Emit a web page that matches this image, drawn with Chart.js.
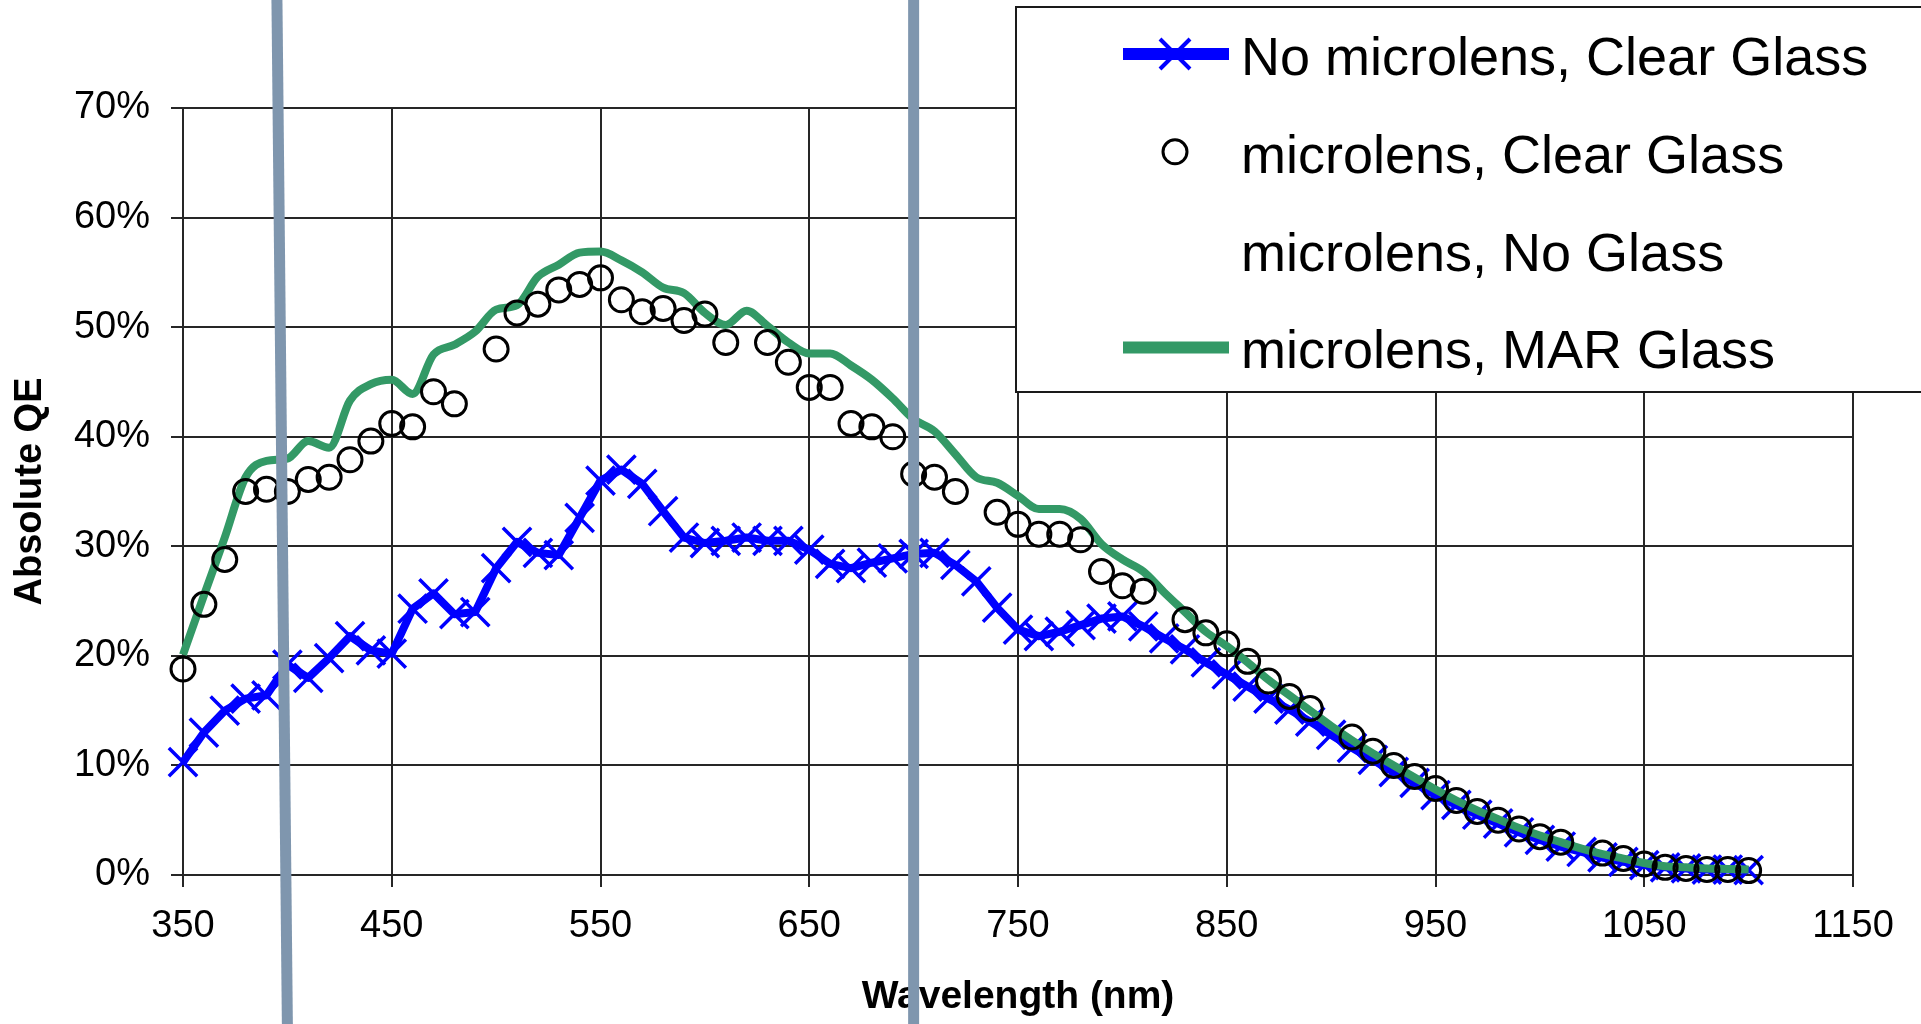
<!DOCTYPE html>
<html>
<head>
<meta charset="utf-8">
<title>Absolute QE vs Wavelength</title>
<script src="https://cdn.jsdelivr.net/npm/chart.js@4.4.1/dist/chart.umd.min.js"></script>
<style>
  html, body { margin: 0; padding: 0; background: #fff; overflow: hidden; }
  #qeChart { display: block; }
</style>
</head>
<body>
<canvas id="qeChart" width="1921" height="1024"></canvas>
<script>
// wavelength of every measured point (nm)
const wavelengths = [
  350, 360, 370, 380, 390, 400, 410, 420, 430, 440,
  450, 460, 470, 480, 490, 500, 510, 520, 530, 540,
  550, 560, 570, 580, 590, 600, 610, 620, 630, 640,
  650, 660, 670, 680, 690, 700, 710, 720, 730, 740,
  750, 760, 770, 780, 790, 800, 810, 820, 830, 840,
  850, 860, 870, 880, 890, 900, 910, 920, 930, 940,
  950, 960, 970, 980, 990, 1000, 1010, 1020, 1030, 1040,
  1050, 1060, 1070, 1080, 1090, 1100
];

// absolute QE in %
const noLensClear = [
  10.3, 13.0, 15.0, 16.1, 16.4, 19.2, 18.0, 19.8, 21.8, 20.5,
  20.2, 24.3, 25.7, 23.8, 24.0, 28.0, 30.4, 29.4, 29.2, 32.6,
  36.0, 37.0, 35.7, 33.2, 30.8, 30.3, 30.5, 30.8, 30.5, 30.5,
  29.7, 28.4, 28.0, 28.5, 28.9, 29.3, 29.4, 28.3, 26.8, 24.4,
  22.4, 21.8, 22.2, 22.8, 23.4, 23.6, 22.7, 21.6, 20.6, 19.4,
  18.3, 17.2, 16.1, 15.1, 14.0, 12.8, 11.6, 10.5, 9.4, 8.4,
  7.3, 6.4, 5.5, 4.7, 3.9, 3.2, 2.6, 2.1, 1.6, 1.2,
  0.9, 0.7, 0.6, 0.5, 0.5, 0.45
];

const lensClear = [
  18.8, 24.7, 28.8, 35.0, 35.2, 35.0, 36.1, 36.3, 37.9, 39.6,
  41.2, 40.9, 44.1, 43.0, null, 48.0, 51.3, 52.1, 53.4, 53.9,
  54.5, 52.5, 51.4, 51.7, 50.6, 51.2, 48.6, null, 48.6, 46.8,
  44.5, 44.5, 41.2, 40.9, 40.0, 36.6, 36.3, 35.0, null, 33.1,
  32.0, 31.1, 31.1, 30.6, 27.7, 26.4, 25.9, null, 23.3, 22.1,
  21.1, 19.5, 17.7, 16.3, 15.2, null, 12.6, 11.3, 10.0, 9.0,
  7.9, 6.8, 5.8, 5.0, 4.2, 3.5, 3.0, null, 2.0, 1.5,
  1.0, 0.7, 0.6, 0.5, 0.5, 0.4
];

// listed in the legend, nothing plotted
const lensNoGlass = [];

const lensMar = [
  20.1, 25.5, 30.8, 36.3, 37.8, 38.0, 39.6, 39.0, 43.3, 44.8,
  45.2, 43.9, 47.5, 48.4, 49.6, 51.6, 52.0, 54.6, 55.7, 56.8,
  56.9, 56.1, 55.0, 53.6, 53.1, 51.3, 50.2, 51.5, 50.1, 48.6,
  47.6, 47.6, 46.5, 45.2, 43.5, 41.6, 40.5, 38.4, 36.3, 35.8,
  34.6, 33.4, 33.4, 32.5, 30.2, 28.8, 27.7, 25.8, 24.0, 22.2,
  20.9, 19.4, 17.8, 16.4, 15.0, 13.6, 12.3, 11.1, 10.0, 8.9,
  7.8, 6.8, 5.9, 5.1, 4.3, 3.6, 3.0, 2.4, 1.9, 1.5,
  1.1, 0.8, 0.7, 0.6, 0.55, 0.5
];

const xTicks = [350, 450, 550, 650, 750, 850, 950, 1050, 1150];
const yTicks = [0, 10, 20, 30, 40, 50, 60, 70];

// the two marker bars laid over the slide (wavelength at top / bottom edge)
const guideTop = [395, 700];
const guideBottom = [400, 700];

const toPoints = ys => wavelengths.map((x, i) => ({ x: x, y: ys[i] }));

Chart.defaults.font.family = "'Liberation Sans', Arial, sans-serif";
Chart.defaults.color = '#000';

// boxed legend in the upper right, drawn on top of the grid
const boxLegend = {
  id: 'boxLegend',
  afterDatasetsDraw(chart) {
    const ctx = chart.ctx;
    ctx.save();
    ctx.fillStyle = '#fff';
    ctx.strokeStyle = '#1a1a1a';
    ctx.lineWidth = 2;
    ctx.fillRect(1016, 7, 920, 385);
    ctx.strokeRect(1016, 7, 920, 385);

    ctx.font = "54px 'Liberation Sans', Arial, sans-serif";
    ctx.textBaseline = 'alphabetic';
    ctx.textAlign = 'left';

    chart.data.datasets.forEach((ds, i) => {
      const capY = 56 + i * 97.8;
      const symY = capY - 2;
      const color = ds.borderColor;
      if (ds.showLine !== false) {
        ctx.strokeStyle = color;
        ctx.lineWidth = 12;
        ctx.lineCap = 'butt';
        ctx.beginPath();
        ctx.moveTo(1123, symY);
        ctx.lineTo(1229, symY);
        ctx.stroke();
      }
      if (ds.pointRadius > 0) {
        ctx.strokeStyle = ds.pointBorderColor || color;
        if (ds.pointStyle === 'crossRot') {
          ctx.lineWidth = 4;
          ctx.beginPath();
          ctx.moveTo(1160, symY - 15); ctx.lineTo(1190, symY + 15);
          ctx.moveTo(1160, symY + 15); ctx.lineTo(1190, symY - 15);
          ctx.stroke();
        } else {
          ctx.lineWidth = 3;
          ctx.beginPath();
          ctx.arc(1175, symY, 12, 0, Math.PI * 2);
          ctx.stroke();
        }
      }
      ctx.fillStyle = '#000';
      ctx.fillText(ds.label, 1241, capY + 19);
    });
    ctx.restore();
  }
};

const guides = {
  id: 'guides',
  afterDraw(chart) {
    const xs = chart.scales.x;
    const ctx = chart.ctx;
    ctx.save();
    ctx.strokeStyle = '#7f96ae';
    ctx.lineWidth = 11;
    guideTop.forEach((w, i) => {
      ctx.beginPath();
      ctx.moveTo(xs.getPixelForValue(w), 0);
      ctx.lineTo(xs.getPixelForValue(guideBottom[i]), chart.height);
      ctx.stroke();
    });
    ctx.restore();
  }
};

const gridColor = '#262626';

new Chart(document.getElementById('qeChart'), {
  type: 'line',
  data: {
    datasets: [
      {
        label: 'No microlens, Clear Glass',
        data: toPoints(noLensClear),
        borderColor: '#0000ff',
        backgroundColor: '#0000ff',
        borderWidth: 8,
        borderJoinStyle: 'round',
        pointStyle: 'crossRot',
        pointRadius: 20,
        pointBorderWidth: 3.5,
        pointBorderColor: '#0000ff',
        tension: 0,
        clip: false,
        order: 2
      },
      {
        label: 'microlens, Clear Glass',
        data: toPoints(lensClear),
        showLine: false,
        borderColor: '#000',
        pointStyle: 'circle',
        pointRadius: 12,
        pointBorderWidth: 3,
        pointBorderColor: '#000',
        pointBackgroundColor: 'rgba(0,0,0,0)',
        clip: false,
        order: 0
      },
      {
        label: 'microlens, No Glass',
        data: lensNoGlass,
        showLine: false,
        borderColor: '#000',
        pointRadius: 0,
        order: 3
      },
      {
        label: 'microlens, MAR Glass',
        data: toPoints(lensMar),
        borderColor: '#339966',
        borderWidth: 8,
        borderJoinStyle: 'round',
        pointRadius: 0,
        cubicInterpolationMode: 'monotone',
        clip: false,
        order: 1
      }
    ]
  },
  options: {
    responsive: false,
    animation: false,
    layout: { padding: { top: 108, right: 68, left: 0, bottom: 0 } },
    plugins: {
      legend: { display: false },
      tooltip: { enabled: false }
    },
    scales: {
      x: {
        type: 'linear',
        min: 350,
        max: 1150,
        afterBuildTicks: s => { s.ticks = xTicks.map(v => ({ value: v })); },
        afterFit: s => { s.height = 149; },
        grid: { color: gridColor, lineWidth: 2, tickLength: 12 },
        border: { color: gridColor, width: 2 },
        ticks: {
          font: { size: 38 },
          color: '#000',
          padding: 17,
          maxRotation: 0,
          autoSkip: false,
          callback: v => String(v)
        },
        title: {
          display: true,
          text: 'Wavelength (nm)',
          color: '#000',
          font: { size: 39, weight: 'bold' },
          padding: { top: 0, bottom: 3 }
        }
      },
      y: {
        min: 0,
        max: 70,
        afterBuildTicks: s => { s.ticks = yTicks.map(v => ({ value: v })); },
        afterFit: s => { s.width = 183; },
        grid: { color: gridColor, lineWidth: 2, tickLength: 12 },
        border: { color: gridColor, width: 2 },
        ticks: { font: { size: 38 }, color: '#000', padding: 21, callback: v => v + '%' },
        title: {
          display: true,
          text: 'Absolute QE',
          color: '#000',
          font: { size: 38, weight: 'bold' },
          padding: { top: 8, bottom: 0 }
        }
      }
    }
  },
  plugins: [boxLegend, guides]
});
</script>
</body>
</html>
